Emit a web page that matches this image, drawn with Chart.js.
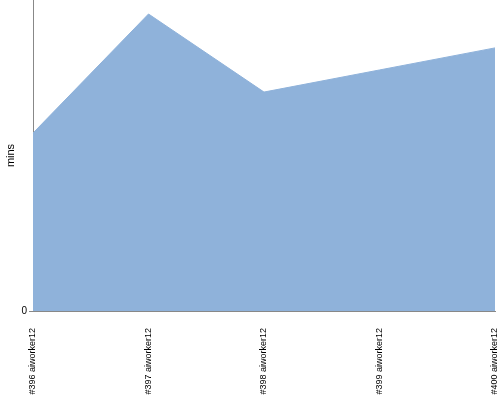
<!DOCTYPE html>
<html lang="en">
<head>
    <meta charset="UTF-8">
    <title>mins per build</title>
    <script src="https://cdn.jsdelivr.net/npm/chart.js"></script>
    <style>
        html, body { margin: 0; padding: 0; background: #fff; }
        .chart-container { position: relative; width: 500px; height: 400px; }
    </style>
</head>
<body>
    <div class="chart-container">
        <canvas id="minsChart"></canvas>
    </div>

    <script>
        const builds = ['#396 aiworker12', '#397 aiworker12', '#398 aiworker12', '#399 aiworker12', '#400 aiworker12'];
        const mins = [57.2, 95.5, 70.4, 77.5, 84.6];
        const yTicks = [0];

        const fillColor = '#8FB2DA';
        const axisColor = '#888888';

        new Chart(document.getElementById('minsChart'), {
            type: 'line',
            data: {
                labels: builds,
                datasets: [{
                    label: 'mins',
                    data: mins,
                    fill: 'origin',
                    backgroundColor: fillColor,
                    borderColor: fillColor,
                    borderWidth: 1,
                    pointRadius: 0,
                    tension: 0
                }]
            },
            options: {
                responsive: true,
                maintainAspectRatio: false,
                animation: false,
                layout: { padding: { top: 0, right: 5, bottom: 0, left: 0 } },
                scales: {
                    x: {
                        offset: false,
                        grid: { display: false },
                        border: { display: true, color: axisColor },
                        ticks: {
                            minRotation: 90,
                            maxRotation: 90,
                            padding: 9,
                            color: '#000',
                            font: { family: 'Arial, "Liberation Sans"', size: 9 }
                        },
                        afterFit: (scale) => {
                            scale.height = 89;
                            scale.paddingLeft = 0;
                            scale.paddingRight = 0;
                        }
                    },
                    y: {
                        min: 0,
                        max: 100,
                        afterBuildTicks: (scale) => { scale.ticks = yTicks.map(v => ({ value: v })); },
                        grid: { drawOnChartArea: false, tickLength: 4, color: axisColor },
                        border: { display: true, color: axisColor },
                        ticks: {
                            color: '#000',
                            padding: 2,
                            font: { family: 'Arial, "Liberation Sans"', size: 10 }
                        },
                        title: {
                            display: true,
                            text: 'mins',
                            color: '#000',
                            padding: { top: 4, bottom: 0 },
                            font: { family: 'Arial, "Liberation Sans"', size: 11 }
                        },
                        afterFit: (scale) => {
                            scale.width = 33;
                            scale.paddingTop = 0;
                            scale.paddingBottom = 0;
                        }
                    }
                },
                plugins: {
                    legend: { display: false },
                    tooltip: { enabled: false }
                }
            }
        });
    </script>
</body>
</html>
